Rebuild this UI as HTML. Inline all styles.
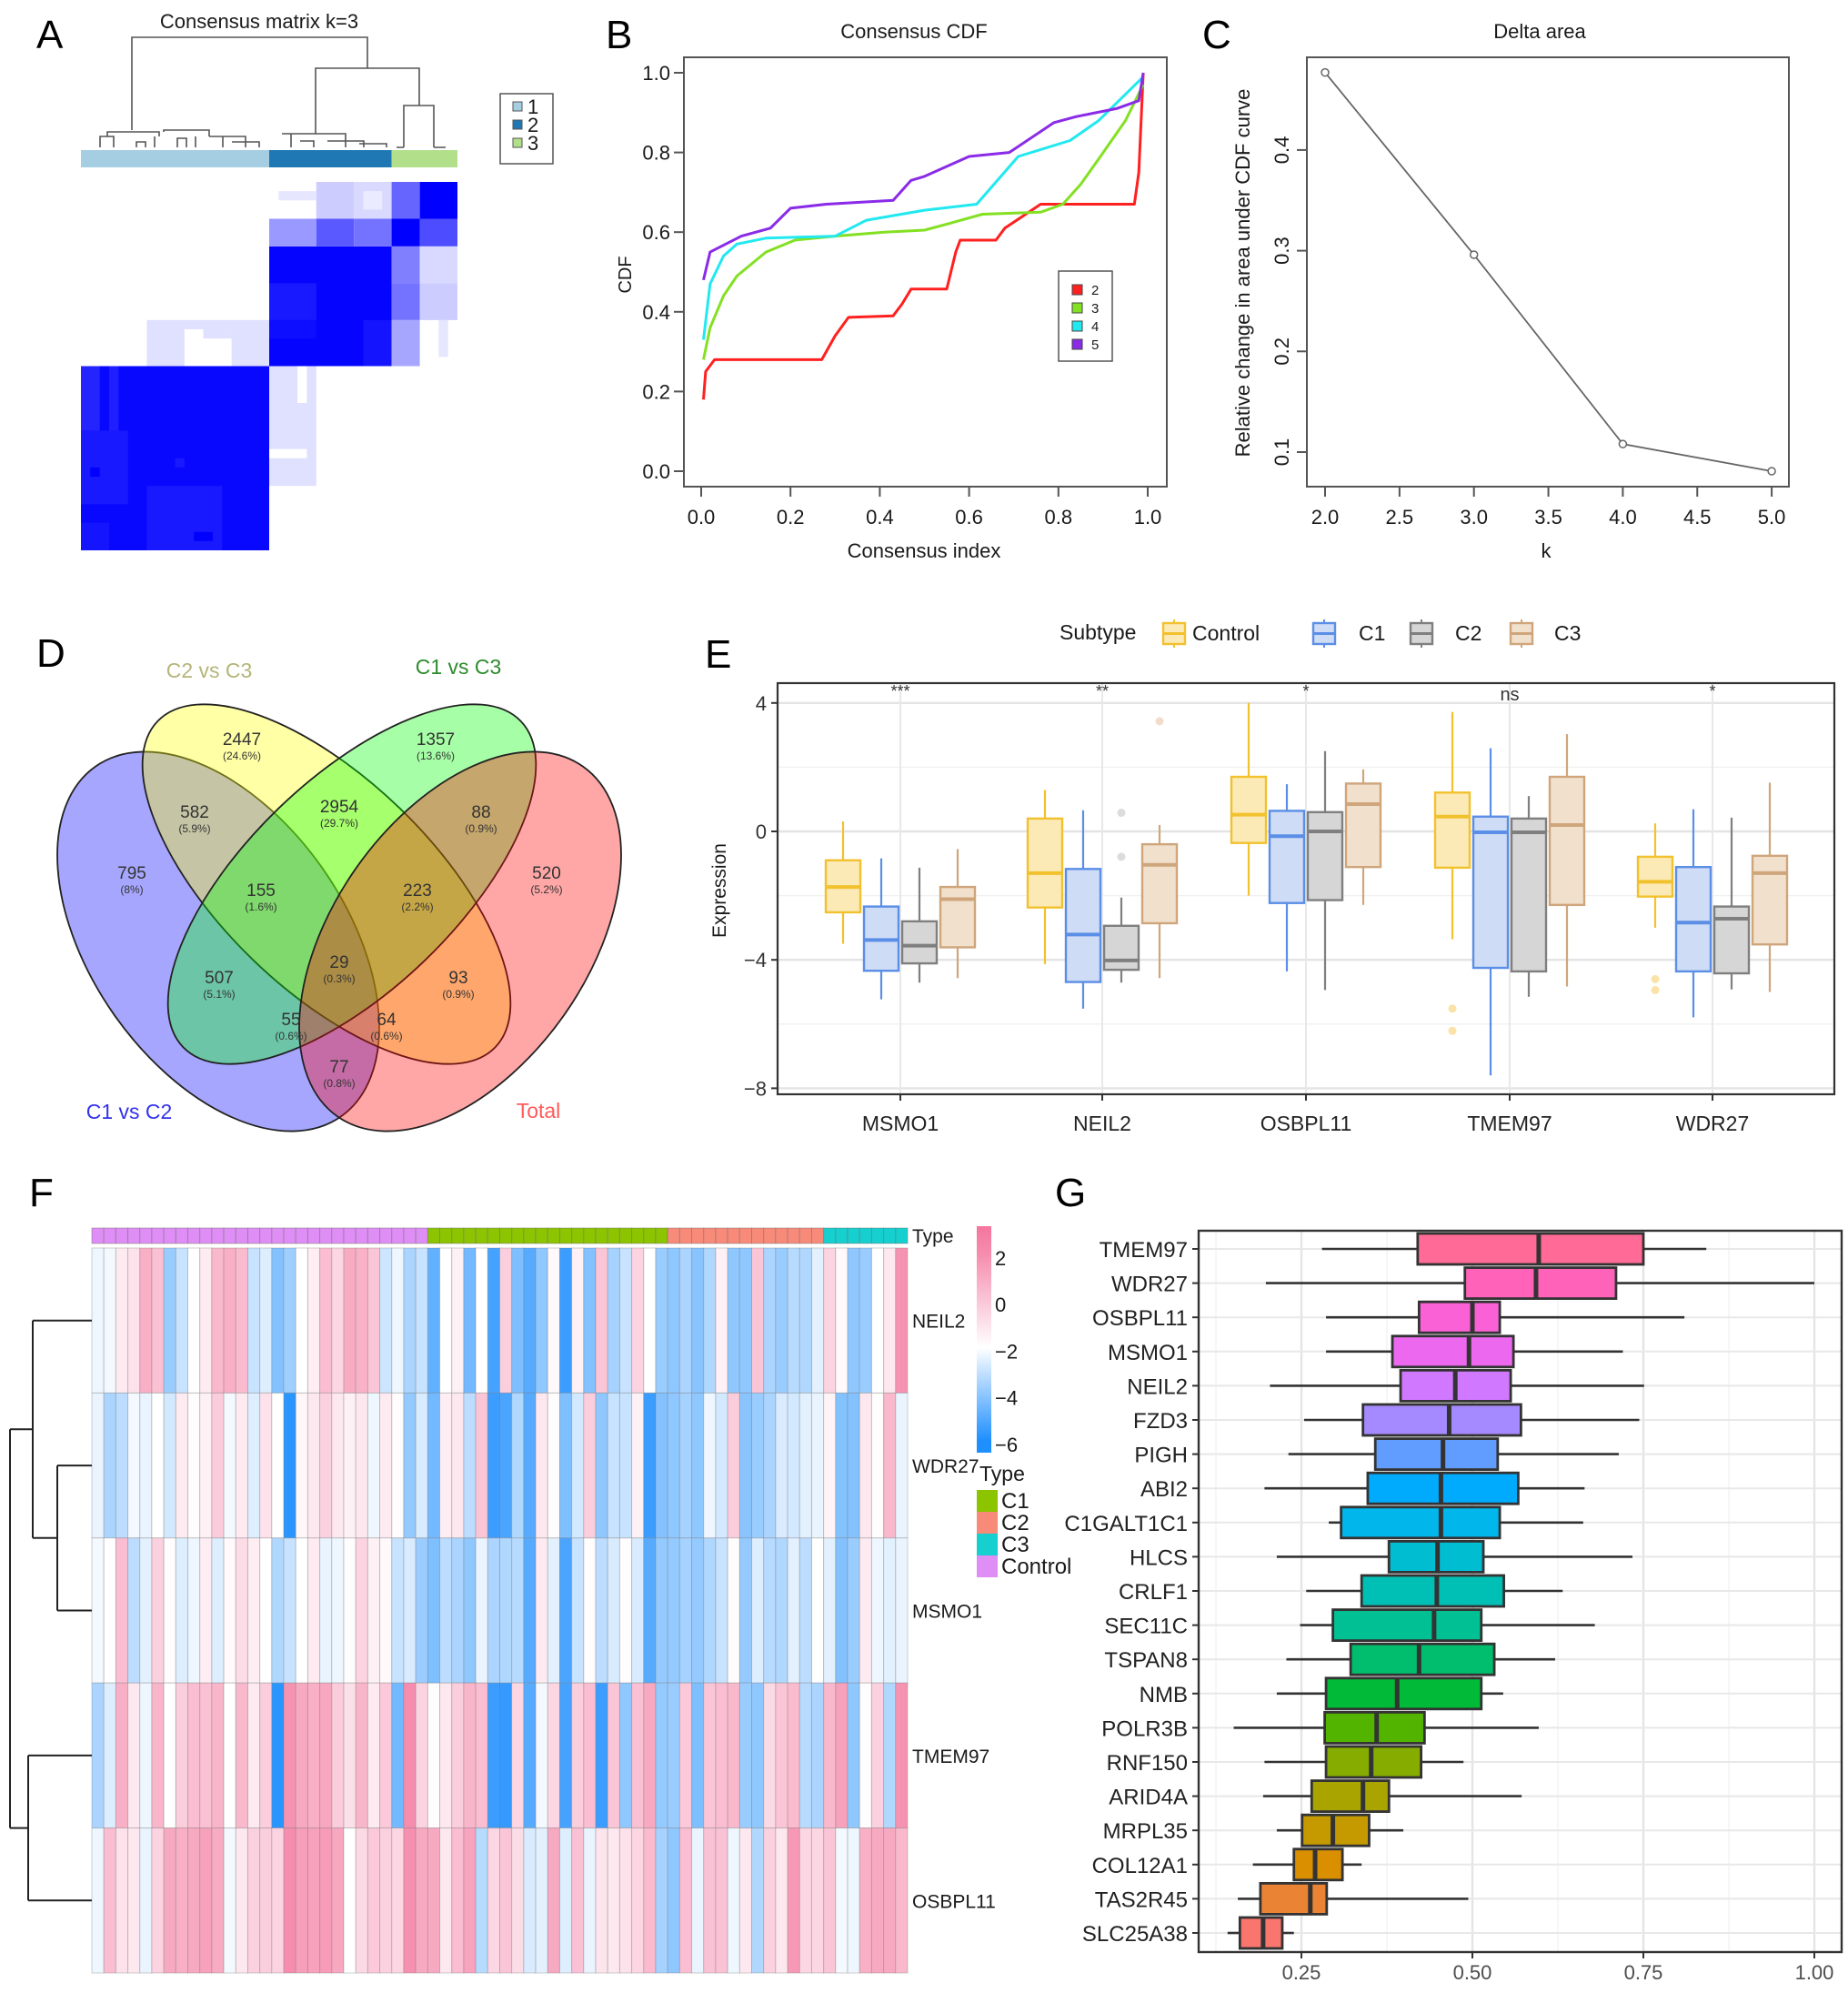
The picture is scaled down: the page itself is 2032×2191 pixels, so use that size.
<!DOCTYPE html>
<html><head><meta charset="utf-8"><title>Consensus clustering figure</title>
<style>body{margin:0;background:#fff}svg{display:block}text{font-family:"Liberation Sans",Arial,sans-serif}</style>
</head><body>
<svg id="fig" width="2032" height="2191" viewBox="0 0 2032 2191" xmlns="http://www.w3.org/2000/svg"></svg>
<script>
// ---------- DATA ----------
// Panel A consensus matrix patches: [colStart,colEnd,rowStart,rowEnd,consensus]
const aPatches=[[0,20,0,20,0.97],[0,2,13,20,0.86],[3,4,13,20,0.88],[0,5,5,13,0.9],[1,2,8,9,1.0],[10,11,9,10,0.9],[7,15,0,7,0.9],[0,3,0,3,0.92],[12,14,1,2,1.0],
[20,33,20,33,0.98],[20,25,25,29,0.9],[20,25,23,25,0.95],[30,33,20,25,0.92],
[33,36,36,40,0.6],[36,40,36,40,1.0],[33,36,33,36,1.0],[36,40,33,36,0.7],
[20,25,33,36,0.4],[25,29,33,36,0.65],[29,33,33,36,0.55],
[25,29,36,40,0.2],[29,33,36,40,0.15],[21,25,38,39,0.1],[30,32,37,39,0.08],
[33,36,29,33,0.5],[36,40,29,33,0.15],[33,36,25,29,0.55],[36,40,25,29,0.2],[33,36,20,25,0.35],[38,39,21,25,0.1],
[7,11,20,25,0.12],[11,13,24,25,0.12],[16,20,20,25,0.12],[13,16,23,25,0.12],
[20,25,7,20,0.12],[23,24,16,20,0.0],[20,24,10,11,0.0]];
const aClusterSizes=[20,13,7];
// Panel B CDF curves
const cdfX2=[0.005,0.01,0.03,0.27,0.30,0.33,0.43,0.45,0.47,0.55,0.57,0.58,0.66,0.68,0.72,0.76,0.97,0.98,0.99];
const cdfY2=[0.18,0.25,0.28,0.28,0.34,0.386,0.39,0.42,0.457,0.457,0.55,0.58,0.58,0.61,0.64,0.67,0.67,0.75,1.0];
const cdfX3=[0.005,0.02,0.05,0.08,0.145,0.21,0.30,0.41,0.50,0.55,0.63,0.76,0.81,0.85,0.894,0.95,0.99];
const cdfY3=[0.28,0.36,0.44,0.49,0.55,0.58,0.59,0.60,0.605,0.62,0.645,0.65,0.67,0.72,0.79,0.88,0.97];
const cdfX4=[0.005,0.02,0.05,0.08,0.145,0.30,0.37,0.50,0.617,0.71,0.826,0.89,0.99];
const cdfY4=[0.33,0.47,0.54,0.57,0.585,0.59,0.63,0.655,0.67,0.79,0.83,0.88,0.99];
const cdfX5=[0.005,0.02,0.09,0.155,0.20,0.28,0.43,0.47,0.50,0.60,0.69,0.79,0.84,0.93,0.98,0.99];
const cdfY5=[0.48,0.55,0.59,0.61,0.66,0.67,0.68,0.73,0.74,0.79,0.80,0.875,0.89,0.91,0.93,1.0];
const cdfTicks=[0,0.2,0.4,0.6,0.8,1.0];
// Panel C delta area
const kVals=[2,3,4,5];
const deltaVals=[0.477,0.296,0.108,0.081];
const cXTicks=[2.0,2.5,3.0,3.5,4.0,4.5,5.0];
const cYTicks=[0.1,0.2,0.3,0.4];
// Panel D venn
const vennCounts=['2447','1357','582','2954','88','795','155','223','520','29','507','93','55','64','77'];
const vennPct=['(24.6%)','(13.6%)','(5.9%)','(29.7%)','(0.9%)','(8%)','(1.6%)','(2.2%)','(5.2%)','(0.3%)','(5.1%)','(0.9%)','(0.6%)','(0.6%)','(0.8%)'];
// Panel E boxplots: genes x subtypes [whiskerLow,q1,median,q3,whiskerHigh]
const eGenes=['MSMO1','NEIL2','OSBPL11','TMEM97','WDR27'];
const eSubtypes=['Control','C1','C2','C3'];
const eSig=['***','**','*','ns','*'];
const eControl=[[-3.5,-2.52,-1.73,-0.9,0.31],[-4.13,-2.37,-1.3,0.4,1.29],[-2.0,-0.36,0.52,1.7,4.0],[-3.36,-1.13,0.46,1.21,3.72],[-3.0,-2.03,-1.57,-0.79,0.25]];
const eC1=[[-5.23,-4.34,-3.38,-2.34,-0.84],[-5.52,-4.69,-3.21,-1.17,0.66],[-4.36,-2.23,-0.15,0.64,1.47],[-7.6,-4.25,-0.03,0.46,2.59],[-5.79,-4.36,-2.84,-1.11,0.69]];
const eC2=[[-4.71,-4.11,-3.56,-2.8,-1.13],[-4.71,-4.31,-4.02,-2.94,-2.06],[-4.94,-2.14,0.0,0.6,2.5],[-5.15,-4.36,-0.03,0.4,1.1],[-4.92,-4.42,-2.72,-2.34,0.43]];
const eC3=[[-4.57,-3.61,-2.11,-1.73,-0.55],[-4.57,-2.86,-1.04,-0.4,0.2],[-2.29,-1.11,0.85,1.49,1.93],[-4.83,-2.29,0.2,1.7,3.03],[-5.0,-3.52,-1.3,-0.76,1.52]];
const eOutGene=[1,1,1,3,3,4,4];
const eOutSub=[2,2,3,0,0,0,0];
const eOutVal=[0.58,-0.79,3.43,-5.52,-6.21,-4.6,-4.94];
const eYTicks=[4,0,-4,-8];
// Panel F heatmap
const fRows=['NEIL2','WDR27','MSMO1','TMEM97','OSBPL11'];
const fGroupSizes=[28,20,13,7];
const fGroupNames=['Control','C1','C2','C3'];
const fNEIL2=[-2.3,-2.2,-1.3,-1.0,0.8,0.2,-3.8,-3.0,-2.0,-1.3,0.5,0.8,0.4,-3.0,-2.6,-4.2,-3.7,-2.0,-1.4,0.3,-0.6,0.9,0.7,0.0,-2.9,-2.3,-3.5,-3.0,-4.8,-2.0,-1.5,-4.5,-2.0,-5.3,
-0.3,-4.3,-5.0,-4.0,-1.8,-5.5,-1.5,-4.2,0.0,-3.6,-3.0,-0.5,-2.0,-3.8,-4.0,-3.5,-4.1,-3.4,-1.5,-4.0,-4.0,0.0,-3.5,-3.8,-3.3,-3.4,-2.5,-0.5,-1.8,-4.0,-3.8,-2.0,-1.2,1.8];
const fWDR27=[-2.4,-3.5,-3.2,-2.2,-2.4,-2.0,-2.8,-1.3,-1.9,-1.5,-0.2,-2.2,-1.3,-2.6,-1.0,-2.0,-5.8,-1.7,-1.2,-0.4,-1.2,-1.5,-1.2,-2.3,-1.3,-1.9,-3.9,-2.7,-4.5,-1.4,-1.2,-3.2,0.0,-5.5,
-5.2,-3.4,-5.0,-1.2,-1.9,-4.3,-2.8,-0.3,-4.0,-3.0,-3.0,-1.5,-5.5,-4.2,-4.0,-3.6,-4.0,-2.3,-2.8,-0.2,-4.1,-3.8,-3.5,-2.7,-2.8,-2.5,-2.4,-1.6,-4.2,-4.2,-1.2,-1.9,0.5,-2.4];
const fMSMO1=[-2.2,-2.0,0.3,-3.2,-2.5,-0.4,-1.9,-2.6,-2.3,-1.4,-2.6,-1.8,-0.8,-1.4,-2.0,-3.4,-3.0,-2.0,-1.3,-2.4,-2.3,-1.9,-0.5,-1.5,-1.8,-3.0,-2.7,-3.8,-4.3,-3.2,-3.5,-4.0,-2.4,-3.5,
-3.4,-3.3,-5.0,-1.3,-2.5,-5.2,-3.0,-1.9,-3.2,-2.7,-1.9,-2.7,-5.0,-3.9,-3.9,-3.6,-3.9,-3.4,-3.0,-1.9,-3.9,-2.6,-3.3,-3.4,-2.5,-3.2,-2.0,-2.5,-4.2,-3.8,-1.3,-2.3,-2.5,-2.4];
const fTMEM97=[-3.5,-2.6,0.8,-1.2,-2.3,0.6,-2.0,-0.3,0.3,0.2,0.6,-2.0,0.5,-1.3,-0.3,-5.8,1.8,1.0,0.8,1.1,-0.2,-0.9,0.6,-1.3,-0.1,-4.5,2.0,-0.5,-1.9,-1.2,-0.3,0.6,0.3,-5.5,
-5.6,-0.6,-5.0,-2.2,-0.6,-5.3,-0.3,0.3,-5.5,0.0,-4.0,0.2,1.0,-3.9,-3.8,-0.1,-4.3,0.0,0.3,0.5,-3.8,-4.0,-0.7,0.0,0.4,-3.3,-3.5,0.5,1.3,-4.0,-1.9,-0.4,-3.4,1.8];
const fOSBPL11=[-2.3,0.3,-1.0,-1.2,-2.4,-0.5,1.0,0.8,1.0,1.3,0.9,-2.2,-1.2,-0.4,-0.3,-0.5,2.0,1.4,1.3,1.5,1.1,-2.0,-0.7,-0.1,-0.4,-0.6,1.9,1.0,1.0,-1.2,0.3,1.2,-3.3,-0.6,
0.0,-0.8,-2.7,-2.5,1.0,-2.6,0.2,-2.4,-1.1,-1.2,-1.0,-0.6,0.4,-3.6,-4.0,0.3,-2.4,0.1,0.1,-2.3,-1.2,-3.4,-0.4,-1.2,1.6,-0.6,-0.6,0.0,-2.2,-2.3,0.8,1.0,1.0,0.5];
const fLegendTicks=[2,0,-2,-4,-6];
// Panel G boxplots
const gGenes=['TMEM97','WDR27','OSBPL11','MSMO1','NEIL2','FZD3','PIGH','ABI2','C1GALT1C1','HLCS','CRLF1','SEC11C','TSPAN8','NMB','POLR3B','RNF150','ARID4A','MRPL35','COL12A1','TAS2R45','SLC25A38'];
const gLow=[0.28,0.198,0.286,0.286,0.204,0.254,0.231,0.196,0.29,0.214,0.257,0.248,0.228,0.214,0.151,0.196,0.194,0.214,0.179,0.157,0.142];
const gQ1=[0.42,0.489,0.422,0.383,0.395,0.34,0.358,0.347,0.308,0.378,0.338,0.296,0.322,0.286,0.284,0.286,0.265,0.251,0.239,0.19,0.16];
const gMed=[0.597,0.593,0.50,0.495,0.475,0.466,0.457,0.454,0.454,0.449,0.448,0.444,0.422,0.39,0.36,0.352,0.34,0.296,0.27,0.263,0.194];
const gQ3=[0.75,0.71,0.54,0.56,0.556,0.571,0.537,0.567,0.54,0.516,0.546,0.513,0.532,0.513,0.43,0.425,0.378,0.349,0.31,0.287,0.222];
const gHigh=[0.842,1.0,0.81,0.72,0.751,0.744,0.714,0.664,0.662,0.734,0.632,0.679,0.621,0.545,0.597,0.487,0.572,0.399,0.338,0.494,0.239];
const gTicks=[0.25,0.50,0.75,1.00];

// ---------- HELPERS ----------
const NS='http://www.w3.org/2000/svg';
const svg=document.getElementById('fig');
function el(tag,attrs,parent){const e=document.createElementNS(NS,tag);for(const k in attrs)e.setAttribute(k,attrs[k]);(parent||svg).appendChild(e);return e;}
function txt(str,x,y,size,anchor,parent,extra){const a=Object.assign({x:x,y:y,'font-size':size,'text-anchor':anchor||'start',fill:'#1a1a1a'},extra||{});const t=el('text',a,parent);t.textContent=str;return t;}
function grp(parent){return el('g',{},parent);}
function line(x1,y1,x2,y2,stroke,w,parent){return el('line',{x1:x1,y1:y1,x2:x2,y2:y2,stroke:stroke,'stroke-width':w},parent);}

// ---------- PANEL LETTERS ----------
const letters=[['A',40,53],['B',666,53],['C',1322,53],['D',40,733],['E',775,734],['F',32,1326],['G',1160,1326]];
for(const L of letters){
  const t=txt(L[0],L[1],L[2],44,'start',svg,{fill:'#000'});
  
  
}

// ---------- PANEL A ----------
const gA=grp(svg);


const aN=40, aX0=89, aX1=503, aY0=200, aY1=605;
function axX(i){return aX0+i*(aX1-aX0)/aN;}
function axY(i){return aY1-i*(aY1-aY0)/aN;}
function blueShade(v){const c=Math.round(255*(1-v));return 'rgb('+c+','+c+',255)';}
for(const p of aPatches){
  const r=el('rect',{x:axX(p[0]),y:axY(p[3]),width:axX(p[1])-axX(p[0]),height:axY(p[2])-axY(p[3]),fill:blueShade(p[4])},gA);
  
  
}
const aColors=['#a6cee3','#1f78b4','#b2df8a'];
let aStart=0;
for(let i=0;i<aClusterSizes.length;i++){
  const r=el('rect',{x:axX(aStart),y:165,width:axX(aStart+aClusterSizes[i])-axX(aStart),height:19,fill:aColors[i]},gA);
  
  
  aStart+=aClusterSizes[i];
}
const aDendro=el('path',{d:'M145,143 V41 H404 V75 M347,147 V75 H461 V116 M444,162 V116 H477 V162 M444,162 H436 M477,162 H490 '+
 'M110,162 V150 H125 V162 M118,150 V145 H175 V150 M170,150 V162 M150,162 V156 H160 V162 M180,145 V143 H230 V150 M215,150 V162 M230,150 H270 V162 M245,150 V162 M255,156 H285 V162 M195,162 V152 H205 V162 '+
 'M320,147 V162 M310,147 H380 V155 M360,155 H400 V162 M380,155 V162 M330,155 H345 V162 M395,158 H425 V162',fill:'none',stroke:'#555','stroke-width':1.6},gA);


const aTitle=txt('Consensus matrix k=3',285,31,22,'middle',gA);


const aLeg=grp(gA);


el('rect',{x:550,y:103,width:58,height:77,fill:'#fff',stroke:'#555','stroke-width':1.5},aLeg);
for(let i=0;i<3;i++){
  const s=el('rect',{x:564,y:112+i*20,width:10,height:10,fill:aColors[i],stroke:'#555','stroke-width':1},aLeg);
  
  
  const t=txt(String(i+1),580,125+i*20,22,'start',aLeg);
  
  
}

// ---------- PANEL B ----------
const gB=grp(svg);


function bx(v){return 771+v*491;}
function by(v){return 518-v*438;}
const bFrame=el('rect',{x:752,y:63,width:531,height:472,fill:'none',stroke:'#555','stroke-width':2},gB);


for(const t of cdfTicks){
  line(bx(t),535,bx(t),546,'#555',2,gB);
  const lx=txt(t.toFixed(1),bx(t),576,22,'middle',gB);
  
  
  line(741,by(t),752,by(t),'#555',2,gB);
  const ly=txt(t.toFixed(1),737,by(t)+8,22,'end',gB);
  
  
}
const bTitle=txt('Consensus CDF',1005,42,22,'middle',gB);


const bXT=txt('Consensus index',1016,613,22,'middle',gB);


const bYT=txt('CDF',0,0,20,'middle',gB,{transform:'translate(694,302) rotate(-90)'});


const cdfSeries=[[cdfX2,cdfY2,'#ff2020','2'],[cdfX3,cdfY3,'#84e023','3'],[cdfX4,cdfY4,'#22e8f0','4'],[cdfX5,cdfY5,'#8a2be8','5']];
for(const s of cdfSeries){
  let d='';
  for(let i=0;i<s[0].length;i++)d+=(i?'L':'M')+bx(s[0][i]).toFixed(1)+','+by(s[1][i]).toFixed(1);
  const p=el('path',{d:d,fill:'none',stroke:s[2],'stroke-width':3,'stroke-linejoin':'round'},gB);
  
  
}
const bLeg=grp(gB);


el('rect',{x:1164,y:298,width:59,height:99,fill:'#fff',stroke:'#555','stroke-width':1.5},bLeg);
for(let i=0;i<4;i++){
  const s=el('rect',{x:1179,y:313+i*20,width:11,height:11,fill:cdfSeries[i][2],stroke:'#444','stroke-width':1},bLeg);
  
  
  const t=txt(cdfSeries[i][3],1200,324+i*20,15,'start',bLeg);
  
  
}

// ---------- PANEL C ----------
const gC=grp(svg);


function cx(k){return 1457+(k-2)*163.7;}
function cy(v){return 497-(v-0.1)*1107;}
const cFrame=el('rect',{x:1437,y:63,width:530,height:472,fill:'none',stroke:'#555','stroke-width':2},gC);


for(const t of cXTicks){
  line(cx(t),535,cx(t),546,'#555',2,gC);
  const l=txt(t.toFixed(1),cx(t),576,22,'middle',gC);
  
  
}
for(const t of cYTicks){
  line(1426,cy(t),1437,cy(t),'#555',2,gC);
  const l=txt(t.toFixed(1),0,0,22,'middle',gC,{transform:'translate(1417,'+cy(t)+') rotate(-90)'});
  
  
}
let cd='';
for(let i=0;i<kVals.length;i++)cd+=(i?'L':'M')+cx(kVals[i])+','+cy(deltaVals[i]);
const cLine=el('path',{d:cd,fill:'none',stroke:'#666','stroke-width':1.8},gC);


for(let i=0;i<kVals.length;i++){
  const c=el('circle',{cx:cx(kVals[i]),cy:cy(deltaVals[i]),r:4,fill:'#fff',stroke:'#666','stroke-width':1.5},gC);
  
  
}
const cTitle=txt('Delta area',1693,42,22,'middle',gC);


const cXT=txt('k',1700,613,22,'middle',gC);


const cYT=txt('Relative change in area under CDF curve',0,0,22,'middle',gC,{transform:'translate(1374,300) rotate(-90)'});



// ---------- PANEL D ----------
const gD=grp(svg);


const vennEll=[[240,1035,235,140,55,'#0000ff','c1-vs-c2'],[359,972,258,116,44,'#ffff00','c2-vs-c3'],[387,972,258,116,-44,'#00ff00','c1-vs-c3'],[506,1035,235,140,-55,'#ff0000','total']];
for(const e of vennEll){
  const p=el('ellipse',{cx:e[0],cy:e[1],rx:e[2],ry:e[3],transform:'rotate('+e[4]+' '+e[0]+' '+e[1]+')',fill:e[5],'fill-opacity':0.35,stroke:'#222','stroke-width':1.8},gD);
  
  
}
const vennPos=[[266,819],[479,819],[214,899],[373,893],[529,899],[145,966],[287,985],[459,985],[601,966],[373,1064],[241,1081],[504,1081],[320,1127],[425,1127],[373,1179]];
for(let i=0;i<vennCounts.length;i++){
  const t=txt(vennCounts[i],vennPos[i][0],vennPos[i][1],19,'middle',gD,{'font-family':'"Liberation Serif",serif',fill:'#333'});
  
  
  const p=txt(vennPct[i],vennPos[i][0],vennPos[i][1]+16,12,'middle',gD,{'font-family':'"Liberation Serif",serif',fill:'#333'});
  
  
}
const vennLabels=[['C2 vs C3',230,745,'#b5b57a'],['C1 vs C3',504,741,'#2e8b2e'],['C1 vs C2',142,1230,'#3333ee'],['Total',592,1229,'#ff5a5a']];
for(const l of vennLabels){
  const t=txt(l[0],l[1],l[2],23,'middle',gD,{fill:l[3]});
  
  
}

// ---------- PANEL E ----------
const gE=grp(svg);


const eCenters=[990,1212,1436,1660,1883];
const eOff=[-63,-21,21,63];
const eStroke=['#f2c12e','#5b8ee6','#7f7f7f','#cfa57c'];
const eFill=['#fbeab5','#cfdcf5','#d6d6d6','#f1e0cc'];
const eOutFill=['#fbe3a8','#cfdcf5','#dcdcdc','#f3dccb'];
function ey(v){return 914-v*35.3;}
function ex(g,s){return eCenters[g]+eOff[s];}
el('rect',{x:855,y:751,width:1162,height:452,fill:'#fff'},gE);
for(const v of [2,-2,-6]){line(855,ey(v),2017,ey(v),'#f0f0f0',1.3,gE);}
for(const v of eYTicks){
  const gl=line(855,ey(v),2017,ey(v),'#e4e4e4',2.4,gE);
  
  
  line(848,ey(v),855,ey(v),'#333',2,gE);
  const t=txt(String(v).replace('-','\u2212'),843,ey(v)+8,22,'end',gE,{fill:'#333'});
  
  
}
for(let g=0;g<eGenes.length;g++){
  line(eCenters[g],751,eCenters[g],1203,'#e8e8e8',2,gE);
}
const eSets=[eControl,eC1,eC2,eC3];
for(let g=0;g<eGenes.length;g++){
  for(let s=0;s<4;s++){
    const d=eSets[s][g], x=ex(g,s), w=38;
    const bg=grp(gE);
    
    
    line(x,ey(d[0]),x,ey(d[1]),eStroke[s],2.2,bg);
    line(x,ey(d[3]),x,ey(d[4]),eStroke[s],2.2,bg);
    el('rect',{x:x-w/2,y:ey(d[3]),width:w,height:ey(d[1])-ey(d[3]),fill:eFill[s],stroke:eStroke[s],'stroke-width':2.4},bg);
    line(x-w/2,ey(d[2]),x+w/2,ey(d[2]),eStroke[s],4,bg);
  }
}
for(let i=0;i<eOutVal.length;i++){
  const c=el('circle',{cx:ex(eOutGene[i],eOutSub[i]),cy:ey(eOutVal[i]),r:4.5,fill:eOutFill[eOutSub[i]]},gE);
  
  
}
for(let g=0;g<eGenes.length;g++){
  const s=txt(eSig[g],eCenters[g],eSig[g]==='ns'?770:766,eSig[g]==='ns'?20:18,'middle',gE,{fill:'#333'});
  
  
  line(eCenters[g],1203,eCenters[g],1210,'#333',2,gE);
  const t=txt(eGenes[g],eCenters[g],1243,23,'middle',gE,{fill:'#222'});
  
  
}
const eFrame=el('rect',{x:855,y:751,width:1162,height:452,fill:'none',stroke:'#333','stroke-width':2.2},gE);


const eYT=txt('Expression',0,0,21,'middle',gE,{transform:'translate(798,979) rotate(-90)'});


const eLeg=grp(gE);


const eLT=txt('Subtype',1165,703,23,'start',eLeg);


const eKeyX=[1278,1443,1550,1660], eLabX=[1311,1494,1600,1709];
for(let s=0;s<4;s++){
  const kg=grp(eLeg);
  
  
  line(eKeyX[s]+13,681,eKeyX[s]+13,712,eStroke[s],2,kg);
  el('rect',{x:eKeyX[s]+1,y:685,width:24,height:23,fill:eFill[s],stroke:eStroke[s],'stroke-width':2.4},kg);
  line(eKeyX[s]+1,696.5,eKeyX[s]+25,696.5,eStroke[s],3,kg);
  const t=txt(eSubtypes[s],eLabX[s],704,23,'start',eLeg);
  
  
}

// ---------- PANEL F ----------
const gF=grp(svg);


const fData=[fNEIL2,fWDR27,fMSMO1,fTMEM97,fOSBPL11];
const fN=68, fX0=101, fX1=998, fY0=1372, fRowH=159.4;
function fx(j){return fX0+j*(fX1-fX0)/fN;}
function fy(r){return fY0+r*fRowH;}
function heatColor(v){
  const blue=[30,143,255], white=[255,255,255], pink=[244,118,158];
  let a,b,t;
  if(v<=-2){a=blue;b=white;t=(Math.max(v,-6)+6)/4;}else{a=white;b=pink;t=Math.min(v+2,4.8)/4.8;}
  return 'rgb('+[0,1,2].map(i=>Math.round(a[i]+(b[i]-a[i])*t)).join(',')+')';
}
const fGroupColors=['#de8ef5','#8cc400','#f88a7a','#16cfcf'];
let fj=0;
for(let g=0;g<fGroupSizes.length;g++){
  for(let k=0;k<fGroupSizes[g];k++){
    const r=el('rect',{x:fx(fj),y:1350,width:fx(fj+1)-fx(fj),height:17,fill:fGroupColors[g],stroke:'rgba(110,110,110,0.45)','stroke-width':1},gF);
    
    
    fj++;
  }
}
for(let r=0;r<fData.length;r++){
  for(let j=0;j<fN;j++){
    const c=el('rect',{x:fx(j),y:fy(r),width:fx(j+1)-fx(j),height:fRowH,fill:heatColor(fData[r][j]),stroke:'rgba(120,120,120,0.35)','stroke-width':1},gF);
    
    
  }
  const t=txt(fRows[r],1003,fy(r)+fRowH/2+8,21,'start',gF);
  
  
}
const fType=txt('Type',1003,1366,21,'start',gF);


function rc(r){return fy(r)+fRowH/2;}
const fDendro=el('path',{d:'M101,'+rc(0)+' H36 M101,'+rc(1)+' H63 M101,'+rc(2)+' H63 M63,'+rc(1)+' V'+rc(2)+' M63,'+((rc(1)+rc(2))/2)+' H36 M36,'+rc(0)+' V'+((rc(1)+rc(2))/2)+
 ' M101,'+rc(3)+' H31 M101,'+rc(4)+' H31 M31,'+rc(3)+' V'+rc(4)+' M36,'+((rc(0)+(rc(1)+rc(2))/2)/2)+' H11 M31,'+((rc(3)+rc(4))/2)+' H11 M11,'+((rc(0)+(rc(1)+rc(2))/2)/2)+' V'+((rc(3)+rc(4))/2),fill:'none',stroke:'#222','stroke-width':2},gF);


const defs=el('defs',{},svg);
const lg=el('linearGradient',{id:'heatgrad',x1:0,y1:1,x2:0,y2:0},defs);
for(const v of [-6.5,-6,-4,-2,0,2,3.2]){
  el('stop',{offset:((v+6.5)/9.7).toFixed(3),'stop-color':heatColor(v)},lg);
}
const fBar=el('rect',{x:1074,y:1348,width:16,height:249,fill:'url(#heatgrad)'},gF);


for(const v of fLegendTicks){
  const t=txt(String(v).replace('-','\u2212'),1094,1383+(2-v)*25.6+8,22,'start',gF);
  
  
}
const fLT=txt('Type',1077,1628,23,'start',gF);


const fLegOrder=[1,2,3,0];
for(let i=0;i<4;i++){
  const g=fLegOrder[i];
  const s=el('rect',{x:1074,y:1638+i*24,width:23,height:24,fill:fGroupColors[g]},gF);
  
  
  const t=txt(fGroupNames[g],1101,1658+i*24,24,'start',gF);
  
  
}

// ---------- PANEL G ----------
const gG=grp(svg);


function gx(v){return 1431+(v-0.25)*752;}
function gy(i){return 1373+i*37.6;}
function hcl(h,c,l){
  const Xn=95.047,Yn=100,Zn=108.883;
  const hr=h*Math.PI/180,u=c*Math.cos(hr),v=c*Math.sin(hr);
  const Y=Yn*Math.pow((l+16)/116,3);
  const un=4*Xn/(Xn+15*Yn+3*Zn),vn=9*Yn/(Xn+15*Yn+3*Zn);
  const up=u/(13*l)+un,vp=v/(13*l)+vn;
  const X=Y*9*up/(4*vp),Z=Y*(12-3*up-20*vp)/(4*vp);
  const x=X/100,y=Y/100,z=Z/100;
  let rgb=[3.2404542*x-1.5371385*y-0.4985314*z,-0.9692660*x+1.8760108*y+0.0415560*z,0.0556434*x-0.2040259*y+1.0572252*z];
  rgb=rgb.map(q=>{q=q<=0.0031308?12.92*q:1.055*Math.pow(q,1/2.4)-0.055;return Math.max(0,Math.min(255,Math.round(q*255)));});
  return 'rgb('+rgb.join(',')+')';
}
el('rect',{x:1318,y:1353,width:707,height:793,fill:'#fff'},gG);
for(const v of [0.125,0.375,0.625,0.875]){line(gx(v),1353,gx(v),2146,'#f1f1f1',1.3,gG);}
for(const v of gTicks){
  const gl=line(gx(v),1353,gx(v),2146,'#e4e4e4',2.4,gG);
  
  
  line(gx(v),2146,gx(v),2153,'#333',2,gG);
  const t=txt(v.toFixed(2),gx(v),2176,22,'middle',gG,{fill:'#4d4d4d'});
  
  
}
const nG=gGenes.length;
for(let i=0;i<nG;i++){line(1318,gy(i),2025,gy(i),'#e8e8e8',2,gG);}
for(let i=0;i<nG;i++){
  const col=hcl(15+(nG-1-i)*360/nG,100,65);
  const bg=grp(gG);
  
  
  line(gx(gLow[i]),gy(i),gx(gQ1[i]),gy(i),'#333',2.6,bg);
  line(gx(gQ3[i]),gy(i),gx(gHigh[i]),gy(i),'#333',2.6,bg);
  el('rect',{x:gx(gQ1[i]),y:gy(i)-17,width:gx(gQ3[i])-gx(gQ1[i]),height:34,fill:col,stroke:'#333','stroke-width':2.8},bg);
  line(gx(gMed[i]),gy(i)-17,gx(gMed[i]),gy(i)+17,'#333',5,bg);
  line(1311,gy(i),1318,gy(i),'#333',2,gG);
  const t=txt(gGenes[i],1306,gy(i)+9,24,'end',gG,{fill:'#222'});
  
  
}
const gFrame=el('rect',{x:1318,y:1353,width:707,height:793,fill:'none',stroke:'#333','stroke-width':2.4},gG);


</script>
</body></html>
